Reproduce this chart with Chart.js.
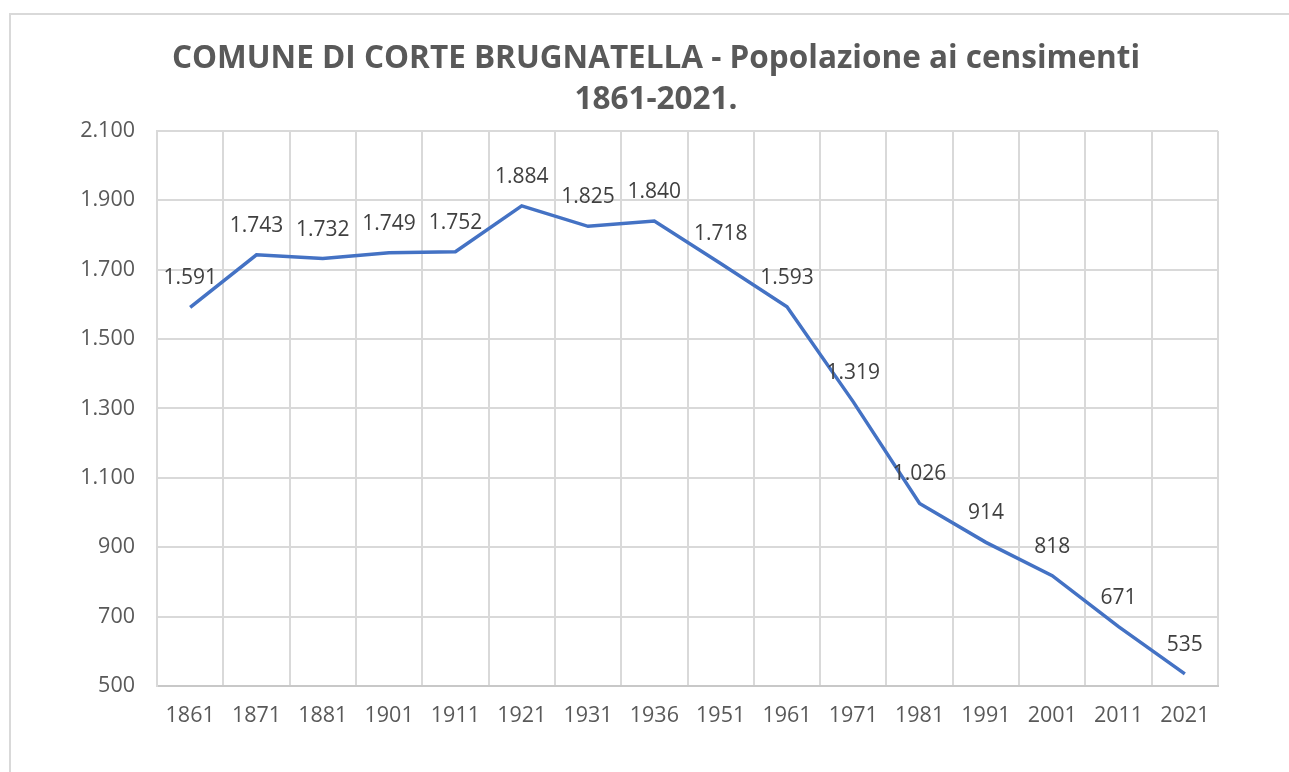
<!DOCTYPE html>
<html>
<head>
<meta charset="utf-8">
<script src="https://cdn.jsdelivr.net/npm/chart.js@4.4.0/dist/chart.umd.min.js"></script>
<style>
  body { margin: 0; background: #fff; overflow: hidden; }
  #frame { position: absolute; left: 9px; top: 13px; width: 1300px; height: 800px; border: 2px solid #d9d9d9; }
  #wrap { position: absolute; left: 0; top: 0; width: 1289px; height: 772px; }
</style>
</head>
<body>
<div id="frame"></div>
<div id="wrap"><canvas id="chart"></canvas></div>
<script>
// Census years and population
const years = ['1861', '1871', '1881', '1901', '1911', '1921', '1931', '1936', '1951', '1961', '1971', '1981', '1991', '2001', '2011', '2021'];
const population = [1591, 1743, 1732, 1749, 1752, 1884, 1825, 1840, 1718, 1593, 1319, 1026, 914, 818, 671, 535];

// Axis range
const yMin = 500;
const yMax = 2100;
const yStep = 200;

const titleLines = ['COMUNE DI CORTE BRUGNATELLA - Popolazione ai censimenti', '1861-2021.'];

// Italian thousands separator
const fmt = function (v) {
  return String(v).replace(/\B(?=(\d{3})+(?!\d))/g, '.');
};

const fontFamily = '"Open Sans", "Noto Sans", sans-serif';

// Data labels above each point
const pointLabels = {
  id: 'pointLabels',
  afterDatasetsDraw(chart) {
    const ctx = chart.ctx;
    const meta = chart.getDatasetMeta(0);
    ctx.save();
    ctx.font = '21px ' + fontFamily;
    ctx.fillStyle = '#404040';
    ctx.textAlign = 'center';
    ctx.textBaseline = 'middle';
    meta.data.forEach((pt, i) => {
      ctx.fillText(fmt(population[i]), pt.x, pt.y - 29);
    });
    ctx.restore();
  }
};

new Chart(document.getElementById('chart').getContext('2d'), {
  type: 'line',
  data: {
    labels: years,
    datasets: [{
      data: population,
      borderColor: '#4472C4',
      borderWidth: 3.5,
      pointRadius: 0,
      tension: 0,
      fill: false
    }]
  },
  options: {
    responsive: true,
    maintainAspectRatio: false,
    animation: false,
    layout: { padding: { left: 23, right: 0, top: 0, bottom: 0 } },
    plugins: {
      legend: { display: false },
      tooltip: { enabled: false },
      title: {
        display: true,
        text: titleLines,
        color: '#595959',
        font: { family: fontFamily, size: 31.5, weight: 'bold', lineHeight: 1.3 },
        padding: { top: 39, bottom: 10 }
      }
    },
    scales: {
      x: {
        offset: true,
        grid: { offset: true, color: '#d9d9d9', lineWidth: 2, drawTicks: false },
        border: { color: '#c8c8c8', width: 2 },
        ticks: { color: '#595959', font: { family: fontFamily, size: 21.5 }, padding: 17, maxRotation: 0 },
        afterFit: function (scale) { scale.height = 86; }
      },
      y: {
        min: yMin,
        max: yMax,
        grid: { color: '#d9d9d9', lineWidth: 2, drawTicks: false },
        border: { color: '#d9d9d9', width: 2 },
        ticks: {
          stepSize: yStep,
          color: '#595959',
          font: { family: fontFamily, size: 21.5 },
          padding: 22,
          callback: function (v) { return fmt(v); }
        },
        afterFit: function (scale) { scale.width = 134; }
      },
      // empty right axis, only reserves the space right of the plot
      yRight: {
        position: 'right',
        min: yMin,
        max: yMax,
        grid: { drawOnChartArea: false, drawTicks: false },
        border: { display: false },
        ticks: { display: false },
        afterFit: function (scale) { scale.width = 71; }
      }
    }
  },
  plugins: [pointLabels]
});
</script>
</body>
</html>
